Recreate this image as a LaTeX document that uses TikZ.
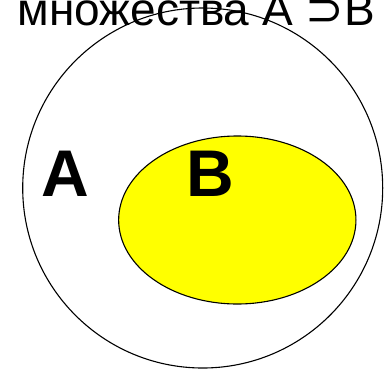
\documentclass[tikz,border=0pt]{standalone}
\usepackage{fontspec}
\setmainfont{Liberation Sans}
\newfontfamily\symfont{DejaVu Sans}
\usetikzlibrary{shapes.geometric}
\definecolor{setyellow}{RGB}{255,255,0}
\begin{document}
\begin{tikzpicture}[x=1pt, y=-1pt, line width=1.1pt,
		setlabel/.style={font=\fontsize{66}{66}\selectfont\bfseries, inner sep=0pt, anchor=base west}]
	
	% --- 1. рамка ---
	\useasboundingbox (0,0) rectangle (385,370);
	
	% --- 2. заголовок ---
	\node[font=\fontsize{46}{46}\selectfont, inner sep=0pt, anchor=base west] (title) at (17,25)
		{множества A {\symfont ⊃}B};
	
	% --- 3. множества ---
	\node[circle, draw=black, minimum size=360pt, inner sep=0pt] (setA) at (202.7,188) {};
	\node[ellipse, draw=black, fill=setyellow, minimum width=237.3pt, minimum height=168pt, inner sep=0pt] (setB) at (237.3,220) {};
	
	% --- 4. подписи ---
	\node[setlabel] (labelA) at (41,196) {A};
	\node[setlabel] (labelB) at (186,196) {B};
	
\end{tikzpicture}
\end{document}
